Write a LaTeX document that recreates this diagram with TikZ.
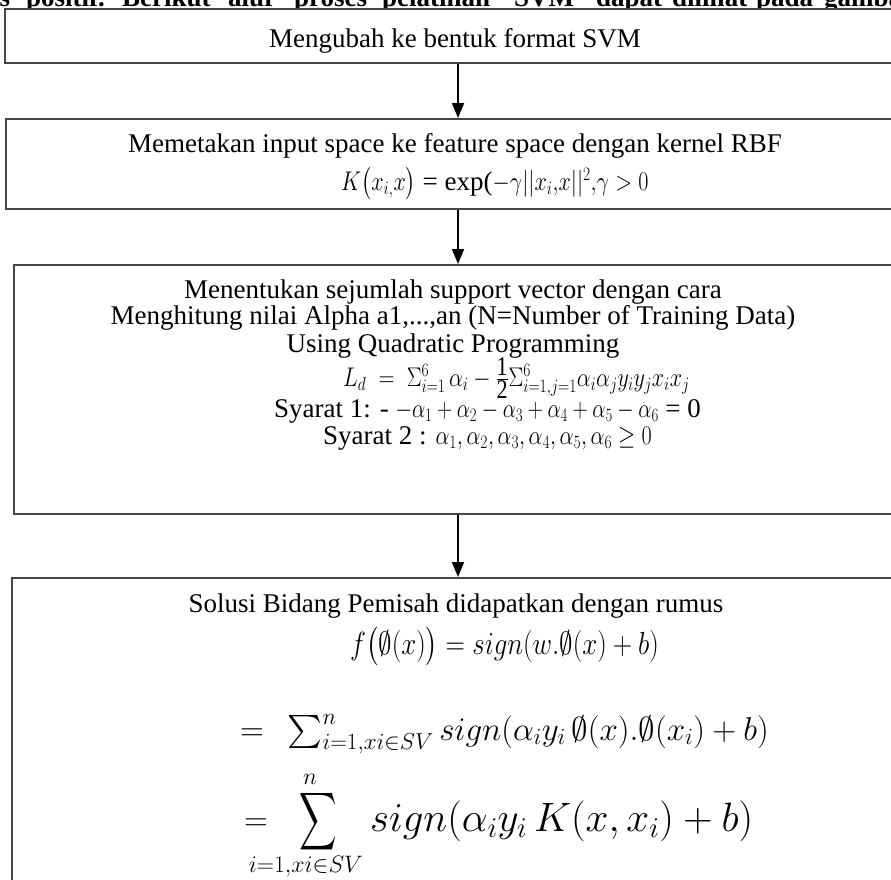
\RequirePackage{fix-cm}
\documentclass[tikz,border=0pt]{standalone}
\usepackage{amsmath,amssymb,graphicx}
\usepackage{fontspec}
\setmainfont{Liberation Serif}
\usetikzlibrary{arrows.meta}
\newcommand{\hsq}[2]{\scalebox{#1}[1]{#2}}
\newcommand{\halfq}{{\textstyle\frac{\mbox{1}}{\mbox{2}}}}
\begin{document}
\begin{tikzpicture}[x=1pt,y=-1pt,
  box/.style={draw=black!72, line width=1.6pt, inner sep=0pt, anchor=north west, minimum width=900pt},
  txt/.style={anchor=base, inner sep=0pt, font=\fontsize{27}{30}\selectfont},
  eqw/.style={anchor=base west, inner sep=0pt, font=\fontsize{27}{30}\selectfont},
  bigeq/.style={anchor=base west, inner sep=0pt, font=\fontsize{33}{36}\selectfont},
  lim/.style={anchor=center, inner sep=0pt, font=\fontsize{34}{36}\selectfont},
  topw/.style={anchor=base west, inner sep=0pt, font=\fontsize{27}{30}\selectfont\bfseries},
  arr/.style={line width=1.8pt, -{Triangle[width=12pt,length=15pt]}}]
\useasboundingbox (0,0) rectangle (891,879);
\clip (0,0) rectangle (891,879);
% cut-off paragraph line at the top
\node[topw] (w1) at (-14,6) {as};
\node[topw] (w2) at (26,6) {positif.};
\node[topw] (w3) at (122,6) {Berikut};
\node[topw] (w4) at (228,6) {alur};
\node[topw] (w5) at (294,6) {proses};
\node[topw] (w6) at (382,6) {pelatihan};
\node[topw] (w7) at (514,6) {SVM};
\node[topw] (w8) at (596,6) {dapat};
\node[topw] (w9) at (672,6) {dilihat};
\node[topw] (w10) at (756,6) {pada};
\node[topw] (w11) at (824,6) {gambar};
% boxes
\node[box, minimum height=54pt, fill=white] (b1) at (4,8) {};
\node[box, minimum height=90pt] (b2) at (5,118) {};
\node[box, minimum height=249pt] (b3) at (13,264) {};
\node[box, minimum height=330pt] (b4) at (11,577) {};
\coordinate (ax) at (458,0);
\draw[arr] (b1.south -| ax) -- (b2.north -| ax);
\draw[arr] (b2.south -| ax) -- (b3.north -| ax);
\draw[arr] (b3.south -| ax) -- (b4.north -| ax);
% box 1
\node[txt] (t1) at (455,47) {Mengubah ke bentuk format SVM};
% box 2
\node[txt] (t2a) at (455,152) {Memetakan input space ke feature space dengan kernel RBF};
\node[eqw] (t2b) at (341,190) {\hsq{0.82}{\fontsize{27}{29}\selectfont$K\bigl(x_{i,}x\bigr)$} = exp(\hsq{0.82}{\fontsize{27}{29}\selectfont$-\gamma||x_i{,}x||^2{,}\gamma>0$}};
% box 3
\node[txt] (t3a) at (453,298) {Menentukan sejumlah support vector dengan cara};
\node[txt] (t3b) at (453,324) {Menghitung nilai Alpha a1,...,an (N=Number of Training Data)};
\node[txt] (t3c) at (453,352) {Using Quadratic Programming};
\node[eqw] (t3d) at (343,386) {\hsq{0.82}{\fontsize{27}{29}\selectfont$L_d\;=\;\Sigma_{i=1}^{6}\,\alpha_i-\halfq\Sigma_{i=1,j=1}^{6}\alpha_i\alpha_j y_i y_j x_i x_j$}};
\node[eqw] (t3e) at (274,417) {Syarat 1: - \hsq{0.78}{\fontsize{27}{29}\selectfont$-\alpha_1+\alpha_2-\alpha_3+\alpha_4+\alpha_5-\alpha_6$} = 0};
\node[eqw] (t3f) at (323,444) {Syarat 2 : \hsq{0.82}{\fontsize{27}{29}\selectfont$\alpha_1,\alpha_2,\alpha_3,\alpha_4,\alpha_5,\alpha_6\geq 0$}};
% box 4
\node[txt] (t4a) at (456,612) {Solusi Bidang Pemisah didapatkan dengan rumus};
\node[eqw] (t4b) at (350,654) {\hsq{0.84}{\fontsize{32}{35}\selectfont$f\bigl(\emptyset(x)\bigr)=sign(w.\emptyset(x)+b)$}};
\node[bigeq] (t4c) at (240,740) {$=\;\,\sum\nolimits_{i=1,xi\in SV}^{n} sign(\alpha_i y_i\,\emptyset(x).\emptyset(x_i)+b)$};
\node[eqw, font=\fontsize{33}{36}\selectfont] (t4e) at (244,830) {$=$};
\node[anchor=center, inner sep=0pt, font=\fontsize{26}{28}\selectfont] (t4s) at (318,822) {\scalebox{1}[1.55]{$\displaystyle\sum$}};
\node[lim] (t4n) at (310,779) {$\scriptstyle n$};
\node[lim] (t4l) at (306,867) {$\scriptstyle i=1,xi\in SV$};
\node[eqw, font=\fontsize{41}{45}\selectfont] (t4d) at (370,831) {$sign(\alpha_i y_i\,K(x,x_i)+b)$};
\end{tikzpicture}
\end{document}
